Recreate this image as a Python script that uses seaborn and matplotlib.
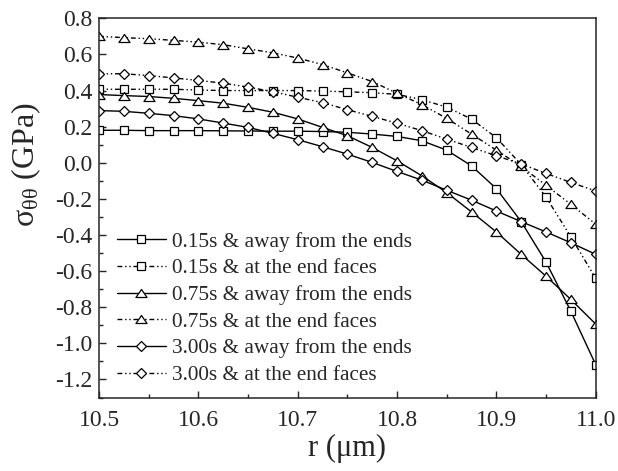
import numpy as np
import pandas as pd
import matplotlib
matplotlib.use("Agg")
import matplotlib.pyplot as plt
import seaborn as sns
from matplotlib.path import Path
from matplotlib.ticker import MultipleLocator, FormatStrFormatter

# radial positions (um)
r = [10.500, 10.525, 10.550, 10.575, 10.600, 10.625, 10.650, 10.675, 10.700,
     10.725, 10.750, 10.775, 10.800, 10.825, 10.850, 10.875, 10.900, 10.925,
     10.950, 10.975, 11.000]

# hoop stress (GPa)
s015_away = [0.180, 0.180, 0.178, 0.178, 0.178, 0.177, 0.176, 0.175, 0.175,
             0.173, 0.169, 0.159, 0.146, 0.122, 0.070, -0.017, -0.143, -0.326,
             -0.550, -0.822, -1.118]
s015_end = [0.407, 0.407, 0.407, 0.407, 0.403, 0.400, 0.400, 0.400, 0.400,
            0.397, 0.393, 0.388, 0.379, 0.350, 0.308, 0.242, 0.139, -0.010,
            -0.190, -0.410, -0.640]
s075_away = [0.378, 0.372, 0.367, 0.357, 0.344, 0.330, 0.307, 0.280, 0.243,
             0.196, 0.150, 0.085, 0.011, -0.072, -0.165, -0.272, -0.383, -0.507,
             -0.628, -0.757, -0.893]
s075_end = [0.700, 0.693, 0.687, 0.678, 0.668, 0.654, 0.631, 0.609, 0.580,
            0.544, 0.498, 0.450, 0.385, 0.322, 0.246, 0.159, 0.070, -0.020,
            -0.125, -0.230, -0.340]
s300_away = [0.289, 0.285, 0.274, 0.261, 0.243, 0.220, 0.196, 0.163, 0.128,
             0.089, 0.048, 0.002, -0.048, -0.096, -0.152, -0.207, -0.267, -0.326,
             -0.383, -0.443, -0.507]
s300_end = [0.493, 0.493, 0.483, 0.470, 0.456, 0.441, 0.419, 0.394, 0.363,
            0.333, 0.294, 0.257, 0.219, 0.178, 0.131, 0.085, 0.039, -0.007,
            -0.059, -0.109, -0.156]

labels = ["0.15s & away from the ends", "0.15s & at the end faces",
          "0.75s & away from the ends", "0.75s & at the end faces",
          "3.00s & away from the ends", "3.00s & at the end faces"]

sns.set_style("ticks")
plt.rcParams["font.family"] = ["Liberation Serif", "DejaVu Serif"]
plt.rcParams["mathtext.fontset"] = "custom"
plt.rcParams["mathtext.rm"] = "Liberation Serif"
plt.rcParams["mathtext.it"] = "Liberation Serif:italic"

fig = plt.figure(figsize=(6.18, 4.71), dpi=100)
ax = fig.add_axes([0.1602, 0.156, 0.8037, 0.8051])

# slightly flattened open triangle
tri = Path([(-1.0, -0.72), (1.0, -0.72), (0.0, 0.72), (-1.0, -0.72)],
           [Path.MOVETO, Path.LINETO, Path.LINETO, Path.CLOSEPOLY])
dotted = (0, (3.5, 2, 1, 2, 1, 2))
styles = [("s", 5.6, "-"), ("s", 5.6, dotted),
          (tri, 8.0, "-"), (tri, 8.0, dotted),
          ("D", 5.6, "-"), ("D", 5.6, dotted)]
series = [s015_away, s015_end, s075_away, s075_end, s300_away, s300_end]

for vals, lab, (mk, ms, ls) in zip(series, labels, styles):
    df = pd.DataFrame({"r": r, "sigma": vals})
    sns.lineplot(data=df, x="r", y="sigma", ax=ax, color="black",
                 linewidth=1.0, linestyle=ls, marker=mk, markersize=ms,
                 markerfacecolor="white", markeredgecolor="black",
                 markeredgewidth=0.9, label=lab, errorbar=None, sort=False)

ax.set_xlim(10.5, 11.0)
ax.set_ylim(-1.3, 0.8)
ax.xaxis.set_major_locator(MultipleLocator(0.1))
ax.xaxis.set_minor_locator(MultipleLocator(0.05))
ax.yaxis.set_major_locator(MultipleLocator(0.2))
ax.yaxis.set_minor_locator(MultipleLocator(0.1))
ax.xaxis.set_major_formatter(FormatStrFormatter("%.1f"))
ax.yaxis.set_major_formatter(FormatStrFormatter("%.1f"))
ax.tick_params(which="both", direction="in", top=False, right=False,
               width=1.0, labelsize=17)
ax.tick_params(which="major", length=4.8, pad=5)
ax.tick_params(which="minor", length=2.8)
ax.tick_params(axis="x", which="major", pad=9)
for sp in ax.spines.values():
    sp.set_linewidth(1.1)
    sp.set_visible(True)

ax.set_xlabel("r (μm)", fontsize=22, labelpad=2)
ax.set_ylabel(r"$\mathregular{σ_{θθ}}$ (GPa)", fontsize=23, labelpad=4)
ax.yaxis.set_label_coords(-0.112, 0.613)

leg = ax.legend(loc="upper left", bbox_to_anchor=(0.036, 0.437),
                frameon=False, fontsize=15.3, numpoints=1, handlelength=2.3,
                handletextpad=0.3, labelspacing=0.32, borderpad=0,
                borderaxespad=0)

fig.savefig("out.png", dpi=100)
